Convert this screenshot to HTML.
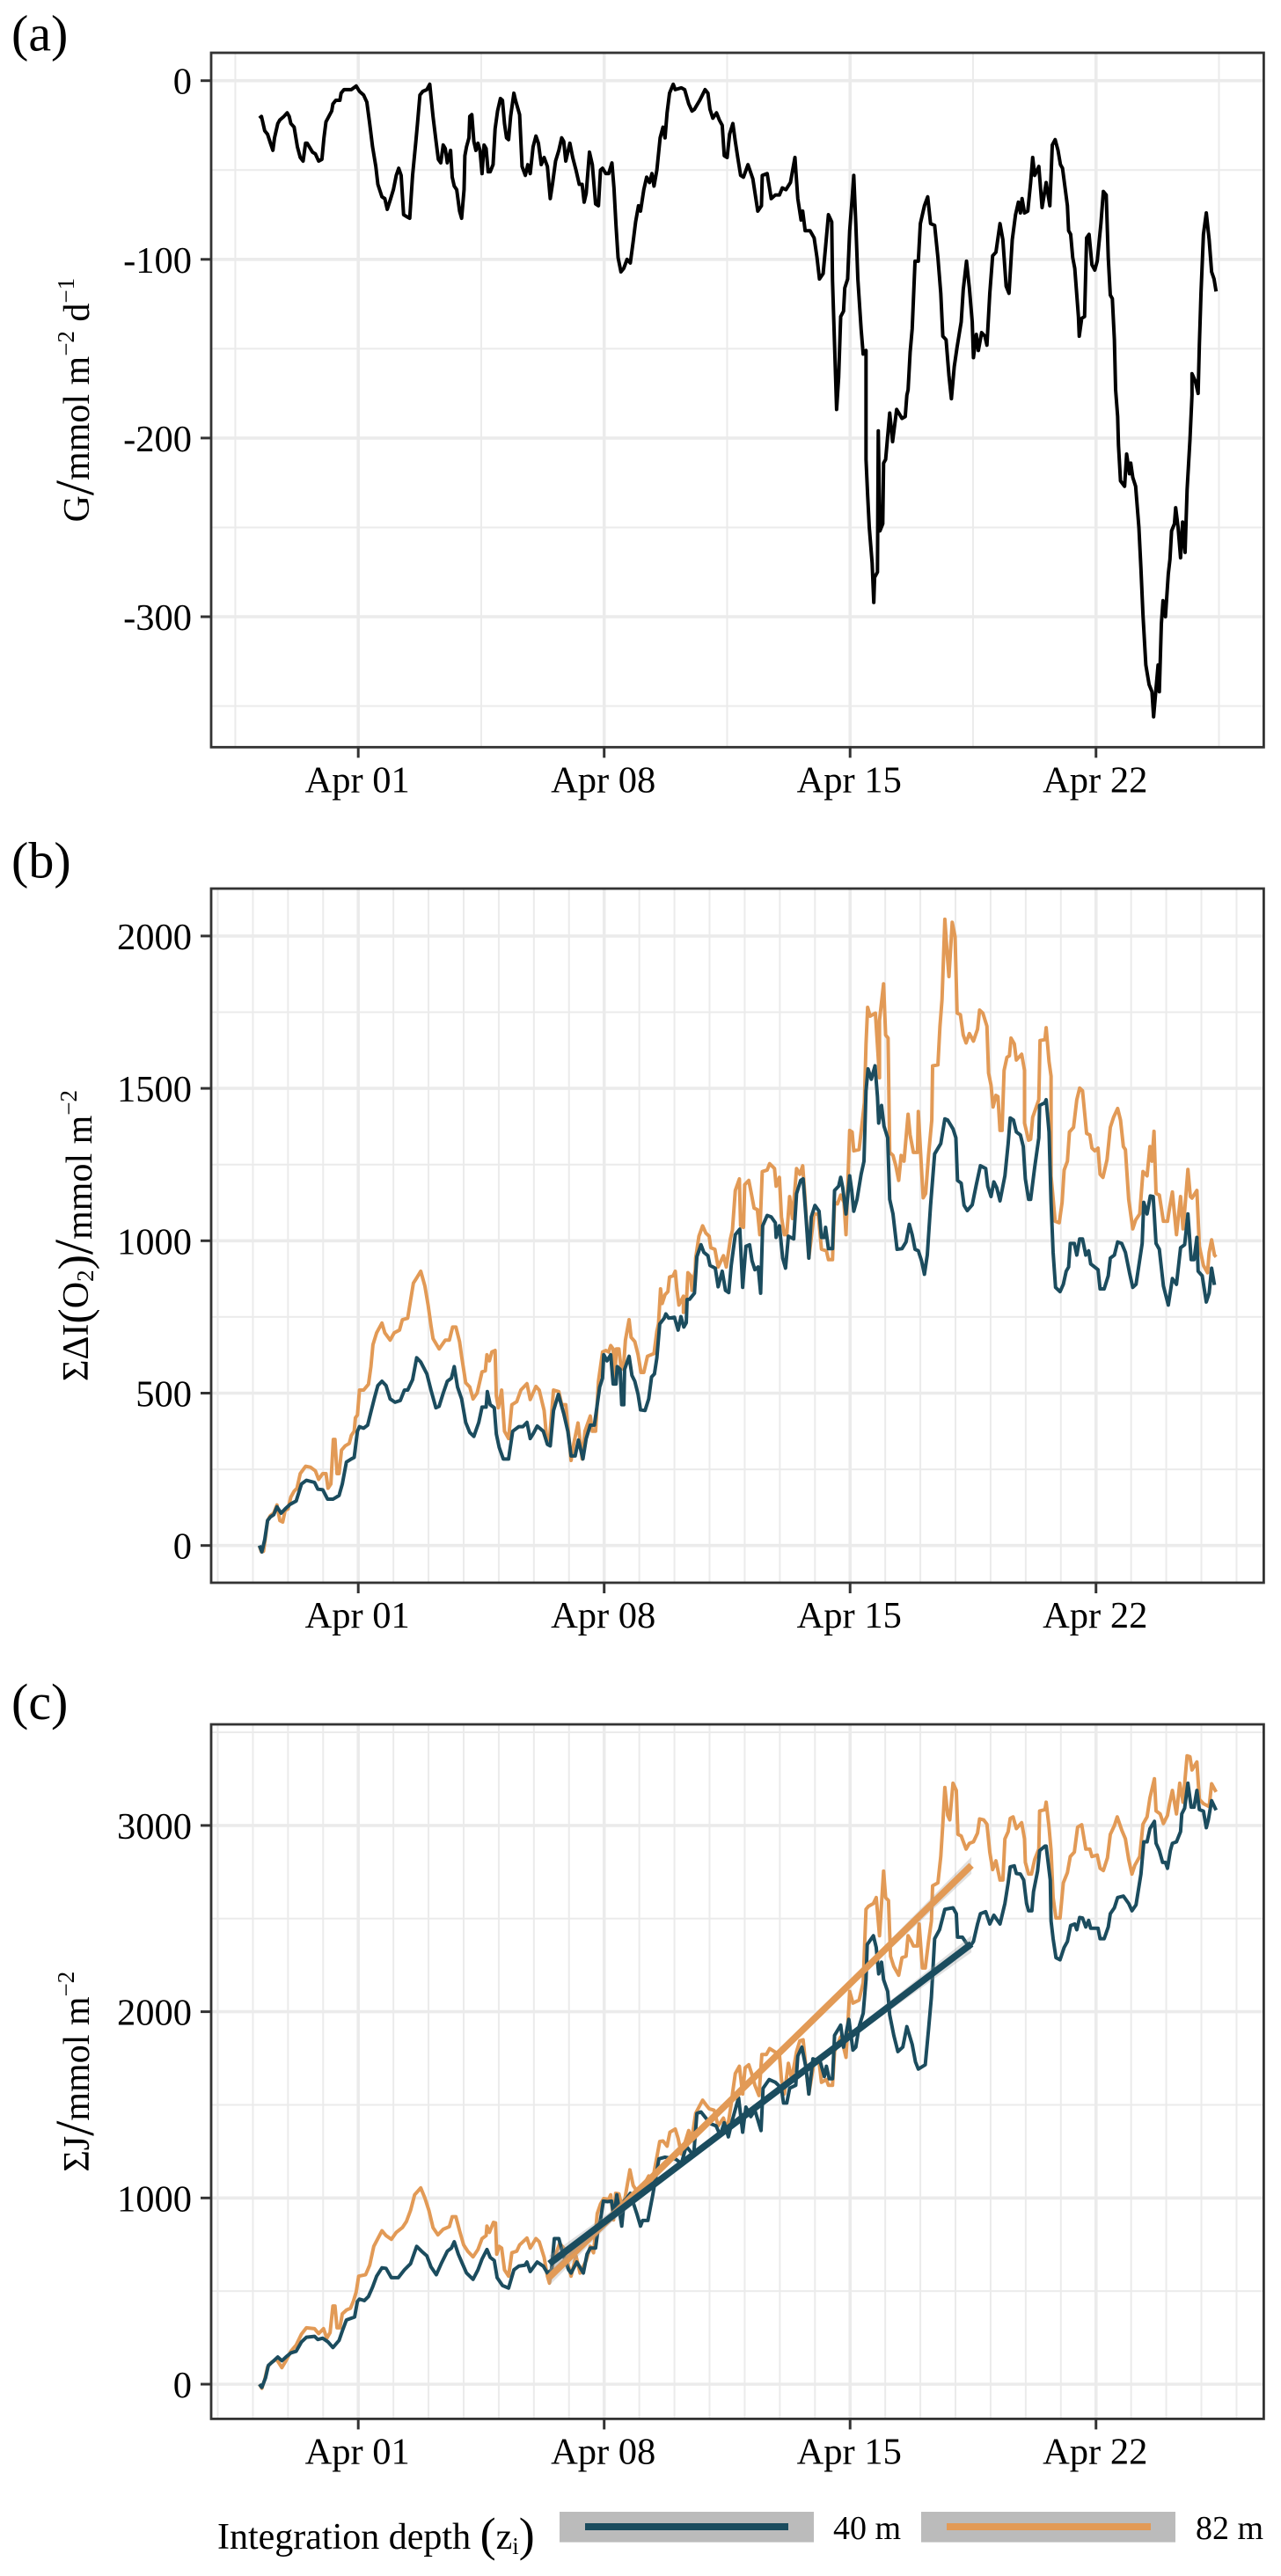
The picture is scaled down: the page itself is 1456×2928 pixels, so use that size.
<!DOCTYPE html>
<html lang="en">
<head>
<meta charset="utf-8">
<title>Time series of G, cumulative oxygen inventory change and cumulative flux</title>
<style>
html,body{margin:0;padding:0;background:#fff}
svg{display:block}
text{font-family:"Liberation Serif","Times New Roman",serif;fill:#000}
</style>
</head>
<body>
<svg id="figure" xmlns="http://www.w3.org/2000/svg" width="1456" height="2928" viewBox="0 0 1456 2928">
<rect x="0" y="0" width="1456" height="2928" fill="#fff"/>
<g id="panel-a"></g>
<g id="panel-b"></g>
<g id="panel-c"></g>

<text x="13" y="57.5" font-size="58">(a)</text>
<text x="13" y="997.5" font-size="58">(b)</text>
<text x="13" y="1954" font-size="58">(c)</text>

<text transform="translate(101,454.7) rotate(-90)" text-anchor="middle" font-size="42">G<tspan font-size="62" dy="5">/</tspan><tspan dy="-5">mmol m</tspan><tspan font-size="27" dy="-17">−2</tspan><tspan dy="17"> d</tspan><tspan font-size="27" dy="-17">−1</tspan></text>
<text transform="translate(100,1404.5) rotate(-90)" text-anchor="middle" font-size="42">ΣΔI<tspan font-size="52" dy="2">(</tspan><tspan dy="-2">O</tspan><tspan font-size="27" dy="6">2</tspan><tspan font-size="52" dy="-4">)</tspan><tspan font-size="62" dy="3">/</tspan><tspan dy="-1">mmol m</tspan><tspan font-size="27" dy="-17">−2</tspan></text>
<text transform="translate(101,2354.7) rotate(-90)" text-anchor="middle" font-size="42">ΣJ<tspan font-size="62" dy="5">/</tspan><tspan dy="-5">mmol m</tspan><tspan font-size="27" dy="-17">−2</tspan></text>

<g id="legend">
<text x="247" y="2897" font-size="42">Integration depth <tspan font-size="54" dy="2">(</tspan><tspan dy="-2">z</tspan><tspan font-size="27" dy="6">i</tspan><tspan font-size="54" dy="-4">)</tspan></text>
<rect x="636" y="2855" width="289" height="34.6" fill="#bbbbbb"/>
<rect x="665" y="2868" width="231" height="8" fill="#1b4c5e"/>
<text x="947" y="2886" font-size="38">40 m</text>
<rect x="1047" y="2855" width="289" height="34.6" fill="#bbbbbb"/>
<rect x="1076" y="2868" width="232" height="8" fill="#e29a56"/>
<text x="1359" y="2886" font-size="38">82 m</text>
</g>
</svg>

<script>
// Time is expressed in samples since Apr 01 00:00 (86 samples per day).
const samplesPerDay = 86;
const xTickDays = [0, 7, 14, 21];
const xTickLabels = ["Apr 01", "Apr 08", "Apr 15", "Apr 22"];
const gMinorDays = [-3.5, 3.5, 10.5, 17.5, 24.5];
const dailyMinorDays = [-4,-3,-2,-1,1,2,3,4,5,6,8,9,10,11,12,13,15,16,17,18,19,20,22,23,24,25];

const gTicks = [0, -100, -200, -300];
const gTickLabels = ["0", "-100", "-200", "-300"];
const gMinorTicks = [-50, -150, -250, -350];
const inventoryTicks = [0, 500, 1000, 1500, 2000];
const inventoryTickLabels = ["0", "500", "1000", "1500", "2000"];
const inventoryMinorTicks = [250, 750, 1250, 1750];
const fluxTicks = [0, 1000, 2000, 3000];
const fluxTickLabels = ["0", "1000", "2000", "3000"];
const fluxMinorTicks = [500, 1500, 2500, 3500];

const gTime = [
-242,-237,-229,-222,-215,-209,-205,-197,-192,-182,-174,-169,-165,-157,-149,-142,-135,-129,-125,-112,
-105,-97,-89,-84,-79,-72,-65,-62,-55,-45,-42,-35,-25,-17,-5,3,13,21,28,35,
43,48,58,65,71,78,86,93,99,105,111,118,126,133,141,145,151,158,168,175,
183,191,196,202,208,213,218,226,230,235,241,248,253,259,261,265,271,273,278,283,
288,293,298,303,308,313,318,323,330,335,341,348,353,358,363,368,373,381,385,395,
401,409,415,421,428,435,441,448,455,463,470,476,483,491,498,503,508,518,525,533,
541,548,553,558,566,573,581,588,593,598,606,613,621,626,631,636,643,650,658,666,
673,679,686,691,699,706,713,719,724,731,739,746,751,756,762,771,776,791,799,809,
817,823,836,849,856,861,868,877,884,891,896,903,909,917,923,929,936,943,954,966,
978,987,989,1001,1011,1021,1031,1038,1047,1058,1069,1076,1084,1088,1094,1106,1116,1123,1129,1138,
1144,1151,1159,1161,1166,1171,1176,1181,1188,1191,1198,1203,1209,1213,1218,1223,1231,1236,1243,1243,
1247,1251,1258,1262,1264,1271,1273,1277,1284,1286,1291,1301,1308,1318,1331,1339,1343,1346,1351,1356,
1363,1371,1376,1386,1394,1401,1411,1419,1426,1431,1439,1446,1452,1459,1466,1476,1481,1489,1496,1503,
1506,1513,1518,1526,1534,1539,1546,1553,1561,1571,1578,1586,1593,1601,1609,1616,1621,1625,1631,1639,
1646,1651,1656,1666,1674,1684,1693,1699,1706,1713,1719,1724,1736,1739,1744,1749,1754,1763,1765,1771,
1778,1783,1789,1796,1803,1809,1818,1824,1831,1836,1841,1846,1851,1854,1859,1861,1866,1876,1881,1888,
1891,1896,1903,1911,1916,1921,1928,1936,1943,1947,1953,1958,1961,1966,1970,1976,1983,1987,1991,1998,
2001,2007,2013,2018,2024,2029,2036,2041,2041,2049,2056,2059,2063,2069,2076,2083,2089,2095,2100];
const gValue = [
-21,-20,-28,-30,-35,-39,-32,-24,-22,-20,-18,-20,-24,-26,-37,-43,-45,-35,-35,-40,
-41,-45,-44,-32,-23,-20,-17,-13,-11,-11,-7,-5,-5,-5,-3,-6,-8,-12,-24,-37,
-48,-58,-65,-66,-72,-67,-61,-53,-49,-53,-75,-76,-77,-53,-34,-24,-8,-6,-5,-2,
-20,-35,-44,-46,-36,-38,-46,-39,-54,-59,-61,-73,-77,-61,-42,-37,-32,-20,-19,-34,
-39,-35,-39,-52,-36,-38,-51,-51,-47,-27,-17,-10,-11,-24,-32,-33,-20,-7,-11,-19,
-48,-53,-47,-52,-37,-31,-35,-47,-43,-48,-66,-57,-45,-39,-32,-34,-45,-35,-43,-50,
-58,-58,-68,-63,-40,-47,-69,-70,-50,-49,-52,-52,-46,-60,-81,-99,-107,-105,-100,-102,
-90,-79,-70,-73,-61,-54,-57,-52,-59,-50,-32,-26,-32,-18,-7,-2,-5,-4,-5,-13,
-17,-16,-11,-5,-7,-16,-21,-18,-22,-25,-42,-43,-30,-24,-34,-43,-53,-54,-47,-55,
-73,-70,-53,-52,-66,-64,-64,-60,-61,-57,-43,-66,-78,-73,-84,-84,-88,-99,-111,-108,
-93,-75,-79,-112,-148,-184,-166,-132,-129,-116,-111,-84,-66,-53,-80,-111,-139,-153,-151,-212,
-232,-250,-270,-292,-278,-275,-196,-252,-248,-214,-212,-186,-202,-184,-189,-188,-176,-173,-152,-139,
-101,-101,-80,-70,-65,-80,-81,-99,-119,-143,-145,-165,-178,-160,-149,-135,-117,-101,-116,-135,
-155,-142,-151,-141,-143,-148,-119,-98,-96,-80,-89,-115,-119,-89,-75,-68,-74,-66,-74,-73,
-57,-43,-53,-48,-71,-57,-70,-36,-33,-39,-47,-49,-70,-84,-86,-99,-105,-132,-143,-133,
-132,-88,-86,-103,-106,-101,-80,-62,-64,-99,-120,-122,-145,-173,-188,-204,-224,-227,-209,-220,
-214,-222,-227,-250,-273,-299,-327,-338,-342,-356,-340,-327,-342,-304,-291,-300,-276,-268,-252,-248,
-239,-250,-267,-247,-264,-229,-201,-176,-164,-168,-175,-148,-119,-86,-74,-89,-107,-111,-118];

const inventory82Time = [
-242,-237,-232,-227,-222,-215,-207,-199,-192,-185,-179,-172,-165,-157,-150,-142,-129,-117,-105,-97,
-87,-79,-74,-67,-61,-57,-52,-47,-41,-32,-22,-17,-10,-7,-2,3,13,25,31,36,
45,58,65,78,88,101,108,121,128,135,143,153,163,171,178,183,198,213,223,231,
239,248,253,263,273,281,291,303,311,315,321,327,335,338,343,351,358,368,376,388,
398,413,421,435,443,455,461,468,478,491,498,508,515,521,528,538,548,555,568,573,
581,588,598,606,613,618,624,627,632,638,643,649,654,663,668,677,685,692,699,708,
724,731,735,740,744,751,758,762,771,776,780,785,796,796,804,807,814,817,825,826,
834,843,851,859,863,873,881,894,901,911,916,923,933,936,943,946,956,963,969,977,
983,989,1001,1007,1019,1023,1031,1036,1043,1049,1056,1063,1073,1081,1088,1093,1103,1116,1126,1134,
1146,1151,1161,1166,1173,1181,1189,1194,1203,1209,1213,1226,1231,1239,1243,1247,1253,1266,1276,1276,
1286,1291,1297,1301,1309,1316,1323,1329,1336,1346,1351,1359,1369,1371,1379,1383,1389,1396,1404,1406,
1419,1424,1429,1436,1441,1446,1454,1461,1466,1474,1481,1488,1496,1506,1516,1521,1529,1539,1543,1549,
1554,1561,1566,1571,1576,1581,1588,1594,1598,1606,1611,1624,1631,1631,1641,1646,1651,1666,1669,1681,
1684,1691,1696,1696,1706,1716,1723,1728,1736,1741,1751,1759,1766,1773,1783,1791,1796,1803,1811,1816,
1823,1833,1841,1849,1859,1866,1873,1878,1886,1896,1903,1913,1921,1931,1938,1943,1948,1953,1961,1971,
1981,1986,1993,2003,2013,2019,2023,2031,2037,2041,2053,2059,2069,2079,2083,2089,2096,2100];
const inventory82Value = [
-2,-21,-19,29,82,98,106,133,82,77,115,120,159,178,188,236,260,257,245,217,
236,236,188,202,348,348,236,236,313,327,335,361,375,419,428,510,510,529,587,659,
698,730,698,674,698,707,741,746,804,861,878,900,852,789,722,679,645,674,674,717,
717,669,621,534,520,481,500,570,573,626,606,635,640,491,452,510,375,351,462,472,
510,531,479,522,510,443,356,346,510,505,462,462,366,279,337,402,284,375,425,375,
375,539,635,640,635,656,645,530,645,645,587,578,674,741,683,669,626,568,568,621,
630,703,727,842,794,823,833,881,885,900,842,789,818,765,818,895,885,837,905,943,
1015,1049,1025,1015,977,972,914,951,914,1006,1035,1165,1203,1049,1044,1184,1198,1150,1107,1102,
1020,1227,1232,1253,1237,1179,1208,1078,1020,1020,1145,1073,1237,1218,1246,1155,943,1088,1088,972,
967,938,938,1126,1121,1150,1126,1020,1362,1357,1295,1299,1357,1453,1646,1766,1737,1747,1535,1723,
1843,1675,1665,1290,1280,1246,1198,1280,1261,1415,1347,1290,1290,1424,1232,1141,1155,1280,1396,1574,
1577,1704,1790,2055,1954,1867,2045,1997,1747,1742,1675,1649,1680,1655,1694,1757,1747,1704,1550,1511,
1439,1477,1473,1362,1362,1559,1602,1607,1665,1646,1593,1612,1559,1386,1330,1333,1405,1463,1657,1660,
1699,1588,1540,1213,1064,1059,1126,1232,1261,1357,1372,1463,1501,1492,1352,1347,1304,1295,1304,1218,
1208,1266,1372,1405,1434,1396,1309,1299,1136,1039,1068,1088,1227,1213,1309,1261,1359,1155,1150,1064,
1064,1107,1160,1020,1145,1039,1097,1234,1145,1140,1165,982,919,895,962,1003,953,947];

const inventory40Time = [
-242,-236,-229,-222,-215,-207,-199,-189,-179,-167,-152,-139,-127,-107,-99,-87,-75,-62,-47,-39,
-29,-17,-10,-2,3,13,23,30,40,48,58,68,78,90,103,113,121,133,143,153,
168,178,190,198,208,218,228,235,243,253,263,273,283,295,303,313,316,323,333,338,
345,355,368,378,393,403,413,421,428,438,453,463,470,478,490,503,513,521,531,539,
550,558,568,578,588,591,598,601,609,618,624,631,634,641,645,650,652,663,670,677,
685,691,702,711,718,725,731,738,749,753,760,774,783,790,797,803,805,811,823,829,
839,846,856,861,874,881,891,899,907,913,923,934,941,949,958,964,971,979,985,990,
1001,1011,1021,1023,1031,1039,1046,1053,1066,1073,1083,1089,1096,1103,1109,1118,1128,1134,1141,1144,
1151,1161,1166,1176,1181,1186,1194,1203,1208,1213,1221,1231,1238,1243,1248,1256,1265,1271,1274,1281,
1287,1296,1301,1309,1319,1331,1341,1349,1356,1363,1371,1379,1386,1393,1401,1411,1426,1436,1443,1456,
1463,1467,1476,1483,1491,1503,1513,1523,1536,1541,1549,1556,1563,1571,1583,1591,1596,1604,1611,1621,
1628,1633,1641,1646,1656,1666,1668,1681,1684,1691,1696,1701,1707,1718,1726,1733,1739,1743,1753,1759,
1766,1773,1781,1788,1793,1811,1816,1826,1836,1841,1851,1859,1869,1878,1888,1896,1904,1919,1923,1931,
1939,1946,1953,1961,1971,1983,1993,2003,2013,2023,2031,2039,2046,2053,2056,2066,2076,2083,2089,2096];
const inventory40Value = [
0,-21,19,82,94,101,127,106,120,135,146,202,214,207,185,183,152,152,164,202,
274,284,289,375,390,385,395,433,486,525,539,525,481,470,476,510,510,544,616,602,
563,510,452,457,500,539,549,587,520,481,404,371,358,404,454,454,505,462,452,366,
322,284,284,375,390,390,404,351,366,392,375,332,327,443,496,433,375,294,294,346,
284,351,395,395,491,520,549,626,606,626,530,530,587,578,462,462,578,621,558,539,
496,445,443,481,553,563,616,727,746,760,746,749,707,751,717,731,807,808,828,948,
987,962,951,919,910,849,900,837,830,919,1020,1038,847,982,987,934,905,914,828,1049,
1083,1078,1059,1011,1049,943,910,1015,1006,1155,1198,1203,1078,943,1078,1116,1097,1011,1011,1044,
974,974,1165,1179,1208,1174,1088,1213,1165,1097,1136,1218,1261,1492,1564,1530,1574,1473,1386,1444,
1376,1338,1136,1088,972,974,996,1054,1020,972,967,934,890,953,1116,1285,1319,1400,1396,1367,
1338,1198,1189,1116,1099,1118,1184,1246,1237,1179,1145,1193,1174,1131,1213,1319,1403,1396,1357,1347,
1309,1203,1136,1136,1242,1338,1444,1453,1463,1357,1126,962,847,833,857,900,914,991,991,953,
1006,1006,953,967,924,905,842,842,885,943,953,996,991,962,895,847,857,991,1126,1088,
1147,1145,991,972,852,789,876,857,977,987,1088,938,938,1011,900,885,799,828,910,855];

const flux82Time = [
-242,-236,-229,-222,-212,-200,-187,-177,-165,-152,-139,-127,-107,-97,-85,-77,-69,-62,-57,-52,
-45,-39,-29,-19,-12,-5,1,18,28,38,48,58,68,81,93,108,118,128,138,153,
163,173,183,195,208,223,230,239,248,258,268,281,293,303,313,315,321,331,336,339,
345,351,358,368,376,388,395,413,421,435,443,455,463,468,478,493,503,521,533,543,
558,568,576,585,593,601,613,618,625,630,638,645,653,665,673,683,691,711,721,738,
746,756,763,776,783,791,803,809,816,826,834,843,851,859,871,881,894,903,913,916,
923,933,941,947,956,963,971,981,988,999,1007,1019,1031,1036,1043,1053,1061,1073,1081,1089,
1096,1103,1116,1128,1134,1146,1151,1161,1166,1181,1188,1194,1203,1211,1226,1236,1243,1249,1261,1268,
1276,1286,1291,1298,1303,1311,1323,1331,1341,1346,1354,1359,1369,1373,1381,1388,1396,1403,1406,1419,
1426,1431,1436,1443,1448,1456,1464,1468,1476,1488,1496,1506,1516,1521,1531,1539,1546,1553,1561,1571,
1578,1583,1591,1596,1603,1611,1624,1631,1633,1641,1648,1656,1666,1668,1681,1684,1691,1696,1701,1708,
1718,1726,1736,1743,1753,1761,1771,1781,1791,1796,1809,1816,1824,1834,1841,1851,1858,1869,1878,1886,
1894,1901,1913,1921,1931,1938,1949,1953,1963,1971,1981,1986,1993,2003,2011,2019,2029,2036,2041,2053,
2059,2069,2083,2089,2100];
const flux82Value = [
0,-22,25,92,118,134,89,126,177,210,269,303,298,272,298,247,277,420,420,303,
303,378,398,408,445,496,580,588,639,740,782,824,798,778,815,841,874,933,1017,1054,
1000,933,841,802,832,846,899,899,824,748,714,684,723,782,798,849,815,869,866,698,
740,731,614,580,706,714,748,785,731,782,765,681,580,543,664,756,731,580,689,597,
664,740,706,916,967,997,992,1017,882,1025,1022,958,1000,1151,1067,1034,1034,1118,1101,1303,
1306,1278,1353,1370,1320,1236,1320,1362,1311,1454,1488,1525,1501,1479,1471,1387,1429,1362,1505,1558,
1668,1707,1558,1699,1715,1668,1605,1550,1770,1770,1802,1786,1770,1636,1558,1723,1636,1786,1844,1849,
1699,1558,1731,1731,1621,1636,1605,1605,1786,1865,1810,1755,2109,2046,2062,2156,2550,2566,2581,2613,
2408,2755,2613,2597,2298,2243,2196,2290,2298,2408,2377,2353,2353,2471,2235,2235,2377,2487,2676,2692,
2833,3007,3204,3054,3030,3227,3188,2952,2944,2873,2904,2912,2959,3035,3030,3007,2857,2763,2810,2707,
2707,2928,2967,3038,3046,2983,3015,2928,2802,2739,2739,2818,2873,3078,3085,3125,2991,2865,2613,2503,
2503,2692,2747,2833,2857,2991,3004,2873,2873,2833,2841,2770,2758,2826,2952,2999,3046,2975,2928,2818,
2739,2786,2833,3007,3046,3148,3251,3078,3062,3010,3054,3117,3188,3062,3227,3125,3374,3369,3298,3341,
3141,3117,3101,3224,3180];

const flux40Time = [
-242,-236,-227,-220,-207,-197,-187,-177,-165,-152,-139,-127,-107,-99,-87,-74,-62,-47,-39,-29,
-9,-2,3,15,25,35,45,58,68,81,98,113,128,143,155,168,178,191,203,218,
228,235,245,255,265,281,293,303,315,323,333,340,353,368,381,393,408,413,421,438,
453,463,473,480,491,501,515,521,535,551,560,568,581,586,593,600,610,620,626,633,
645,651,658,666,673,683,691,696,709,721,736,751,776,791,803,821,829,839,851,861,
876,886,896,906,916,931,941,949,961,971,986,991,1006,1021,1036,1041,1049,1056,1071,1076,
1086,1096,1103,1113,1131,1141,1146,1153,1161,1166,1181,1188,1196,1201,1211,1218,1226,1236,1243,1246,
1261,1268,1274,1281,1286,1296,1301,1311,1321,1333,1343,1356,1364,1371,1388,1396,1403,1411,1423,1436,
1456,1464,1467,1479,1486,1496,1506,1516,1523,1536,1546,1556,1571,1583,1591,1596,1606,1611,1621,1629,
1636,1641,1649,1653,1663,1668,1681,1684,1694,1696,1701,1708,1718,1728,1736,1744,1754,1759,1766,1773,
1781,1788,1793,1811,1816,1826,1836,1841,1851,1859,1873,1886,1894,1904,1916,1923,1931,1938,1949,1953,
1961,1969,1976,1981,1988,1993,2003,2013,2016,2023,2031,2039,2046,2053,2059,2069,2076,2081,2089,2100];
const flux40Value = [
0,-17,34,101,126,146,126,146,168,177,227,252,257,240,247,227,197,235,286,345,
361,445,457,449,471,521,580,625,622,572,572,614,647,740,714,689,630,588,647,714,
731,765,698,647,597,563,614,672,723,681,664,572,530,516,614,634,639,656,605,656,
634,597,614,782,782,698,614,597,656,597,698,731,731,815,883,983,980,983,899,1017,
849,983,1000,1025,975,908,849,879,879,1017,1210,1219,1210,1185,1278,1227,1454,1462,1429,1400,
1387,1336,1404,1328,1420,1538,1353,1488,1437,1471,1362,1589,1636,1621,1589,1510,1510,1589,1605,1762,
1810,1699,1558,1747,1731,1652,1707,1640,1640,1873,1928,1810,1904,1959,1794,1810,1920,1991,2172,2361,
2408,2345,2203,2266,2172,2109,1983,1873,1786,1810,1920,1825,1731,1692,1715,1904,2077,2392,2440,2550,
2558,2526,2400,2400,2377,2345,2377,2471,2526,2537,2471,2518,2471,2581,2692,2778,2783,2742,2739,2707,
2581,2542,2542,2644,2755,2865,2889,2889,2707,2487,2392,2290,2279,2345,2377,2463,2471,2440,2506,2503,
2455,2490,2448,2448,2392,2392,2455,2526,2558,2613,2621,2581,2542,2574,2739,2912,2912,2983,3022,2904,
2865,2802,2802,2770,2865,2904,2912,2967,3062,3093,3227,3098,3098,3188,3085,3077,2988,3030,3133,3082];

const fitTime = [468, 726, 984, 1243, 1501];
const fit82Value = [575, 1127, 1679, 2234, 2786];
const fit40Value = [647, 1076, 1505, 1935, 2364];
const fitBandHalfWidth = [45, 20, 10, 20, 45];

const SVGNS = 'http://www.w3.org/2000/svg';
const COLOR_40 = '#1b4c5e';
const COLOR_82 = '#e29a56';
const GRID = '#ebebeb';
const AXIS = '#333333';

function xScale(t) {
  return 407.2 + (t / samplesPerDay) * 39.93;
}
function dayScale(d) {
  return 407.2 + d * 39.93;
}
function make(tag, parent) {
  const node = document.createElementNS(SVGNS, tag);
  parent.appendChild(node);
  return node;
}
function drawLine(parent, x1, y1, x2, y2, color, width) {
  const node = make('line', parent);
  node.setAttribute('x1', x1);
  node.setAttribute('y1', y1);
  node.setAttribute('x2', x2);
  node.setAttribute('y2', y2);
  node.setAttribute('stroke', color);
  node.setAttribute('stroke-width', width);
  return node;
}
function drawSeries(parent, times, values, yScale, color, width) {
  const n = Math.min(times.length, values.length);
  const pts = [];
  for (let i = 0; i < n; i++) {
    pts.push(xScale(times[i]).toFixed(2) + ',' + yScale(values[i]).toFixed(2));
  }
  const node = make('polyline', parent);
  node.setAttribute('points', pts.join(' '));
  node.setAttribute('fill', 'none');
  node.setAttribute('stroke', color);
  node.setAttribute('stroke-width', width);
  node.setAttribute('stroke-linejoin', 'round');
  return node;
}
function drawBand(parent, values, yScale) {
  const upper = [];
  const lower = [];
  for (let i = 0; i < fitTime.length; i++) {
    upper.push(xScale(fitTime[i]).toFixed(2) + ',' + yScale(values[i] + fitBandHalfWidth[i]).toFixed(2));
    lower.unshift(xScale(fitTime[i]).toFixed(2) + ',' + yScale(values[i] - fitBandHalfWidth[i]).toFixed(2));
  }
  const node = make('polygon', parent);
  node.setAttribute('points', upper.concat(lower).join(' '));
  node.setAttribute('fill', '#999999');
  node.setAttribute('fill-opacity', '0.3');
  return node;
}

function drawFrame(group, cfg) {
  const left = 240;
  const right = 1436.4;
  const bg = make('rect', group);
  
  
  bg.setAttribute('x', left);
  bg.setAttribute('y', cfg.top);
  bg.setAttribute('width', right - left);
  bg.setAttribute('height', cfg.bottom - cfg.top);
  bg.setAttribute('fill', '#fff');

  cfg.minorDays.forEach(function (d) {
    const g = drawLine(group, dayScale(d), cfg.top, dayScale(d), cfg.bottom, GRID, 2);
    
    
  });
  cfg.minorTicks.forEach(function (v) {
    const g = drawLine(group, left, cfg.y(v), right, cfg.y(v), GRID, 2);
    
    
  });
  xTickDays.forEach(function (d) {
    const g = drawLine(group, dayScale(d), cfg.top, dayScale(d), cfg.bottom, GRID, 3.6);
    
    
  });
  cfg.ticks.forEach(function (v) {
    const g = drawLine(group, left, cfg.y(v), right, cfg.y(v), GRID, 3.6);
    
    
  });
}

function drawAxes(group, cfg) {
  const left = 240;
  const right = 1436.4;
  const border = make('rect', group);
  
  
  border.setAttribute('x', left);
  border.setAttribute('y', cfg.top);
  border.setAttribute('width', right - left);
  border.setAttribute('height', cfg.bottom - cfg.top);
  border.setAttribute('fill', 'none');
  border.setAttribute('stroke', AXIS);
  border.setAttribute('stroke-width', 2.8);

  xTickDays.forEach(function (d, i) {
    const tick = drawLine(group, dayScale(d), cfg.bottom, dayScale(d), cfg.bottom + 12, AXIS, 3);
    
    
    const label = make('text', group);
    
    
    label.setAttribute('x', dayScale(d) - 1);
    label.setAttribute('y', cfg.bottom + 51);
    label.setAttribute('text-anchor', 'middle');
    label.setAttribute('font-size', '42.5');
    label.textContent = xTickLabels[i];
  });
  cfg.ticks.forEach(function (v, i) {
    const tick = drawLine(group, 228, cfg.y(v), left, cfg.y(v), AXIS, 3);
    
    
    const label = make('text', group);
    
    
    label.setAttribute('x', 218);
    label.setAttribute('y', cfg.y(v) + 15);
    label.setAttribute('text-anchor', 'end');
    label.setAttribute('font-size', '42.5');
    label.textContent = cfg.tickLabels[i];
  });
}

// Panel (a)
(function () {
  const group = document.getElementById('panel-a');
  const y = function (v) { return 91.7 - v * 2.031; };
  const cfg = { top: 60, bottom: 849.3, y: y, ticks: gTicks, tickLabels: gTickLabels, minorTicks: gMinorTicks, minorDays: gMinorDays };
  drawFrame(group, cfg);
  const line = drawSeries(group, gTime, gValue, y, '#000000', 4);
  
  
  drawAxes(group, cfg);
})();

// Panel (b)
(function () {
  const group = document.getElementById('panel-b');
  const y = function (v) { return 1756.7 - v * 0.3464; };
  const cfg = { top: 1010, bottom: 1799, y: y, ticks: inventoryTicks, tickLabels: inventoryTickLabels, minorTicks: inventoryMinorTicks, minorDays: dailyMinorDays };
  drawFrame(group, cfg);
  const l82 = drawSeries(group, inventory82Time, inventory82Value, y, COLOR_82, 4);
  
  
  const l40 = drawSeries(group, inventory40Time, inventory40Value, y, COLOR_40, 4);
  
  
  drawAxes(group, cfg);
})();

// Panel (c)
(function () {
  const group = document.getElementById('panel-c');
  const y = function (v) { return 2710 - v * 0.2117; };
  const cfg = { top: 1960, bottom: 2749.4, y: y, ticks: fluxTicks, tickLabels: fluxTickLabels, minorTicks: fluxMinorTicks, minorDays: dailyMinorDays };
  drawFrame(group, cfg);
  const l82 = drawSeries(group, flux82Time, flux82Value, y, COLOR_82, 4);
  
  
  const l40 = drawSeries(group, flux40Time, flux40Value, y, COLOR_40, 4);
  
  
  const b82 = drawBand(group, fit82Value, y);
  
  
  const f82 = drawSeries(group, fitTime, fit82Value, y, COLOR_82, 7.6);
  
  
  const b40 = drawBand(group, fit40Value, y);
  
  
  const f40 = drawSeries(group, fitTime, fit40Value, y, COLOR_40, 7.6);
  
  
  drawAxes(group, cfg);
})();
</script>
</body>
</html>
